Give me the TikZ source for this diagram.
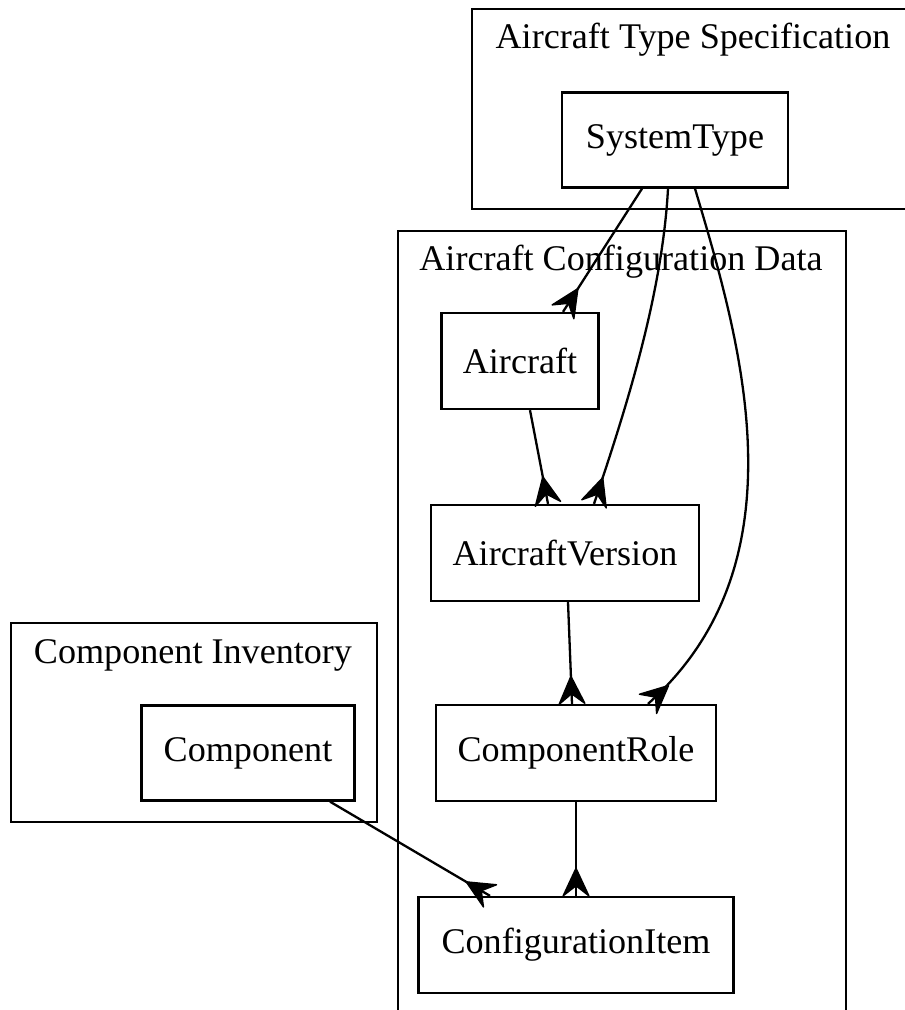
\documentclass[tikz,border=0pt]{standalone}
\usepackage{fontspec}
\setmainfont{Liberation Serif}
\usepackage{tikz}
\usetikzlibrary{arrows.meta}
% crow-foot tip as in the graph drawing
\pgfdeclarearrow{
  name = crow,
  setup code = {
    \pgfarrowssettipend{0pt}
    \pgfarrowssetlineend{0pt}
    \pgfarrowssetbackend{-12pt}
    \pgfarrowssetvisualbackend{-12pt}
  },
  drawing code = {
    \pgfsetlinewidth{0.6pt}
    \pgfsetroundjoin
    \pgfpathmoveto{\pgfqpoint{-12pt}{0pt}}
    \pgfpathlineto{\pgfqpoint{0pt}{5.6pt}}
    \pgfpathlineto{\pgfqpoint{-4.4pt}{0pt}}
    \pgfpathlineto{\pgfqpoint{0pt}{-5.6pt}}
    \pgfpathclose
    \pgfusepathqfillstroke
  }
}
\def\px{0.01528cm}
\tikzset{
  box/.style={rectangle,draw,line width=1pt,inner sep=0pt,font=\fontsize{15.7}{18}\selectfont},
  clab/.style={inner sep=0pt,font=\fontsize{15.7}{18}\selectfont},
  cluster/.style={draw,line width=1pt},
  link/.style={line width=1pt,-crow}
}
\begin{document}
\begin{tikzpicture}[x=\px,y=-\px]
\useasboundingbox (0,0) rectangle (904,1010);
%clusters
\draw[cluster](472,9)rectangle(912,209);
\draw[cluster](398,1020)--(398,231)--(846,231)--(846,1020);
\draw[cluster](11,623)rectangle(377,822);
\node[clab](labtype)at(693,40){Aircraft Type Specification};
\node[clab](labconf)at(621,262){Aircraft Configuration Data};
\node[clab](labinv)at(193,655){Component Inventory};
%nodes
\node[box,minimum width=226*\px,minimum height=95*\px](systype)at(675,140){SystemType};
\node[box,minimum width=157*\px,minimum height=96*\px](aircraft)at(520,361){Aircraft};
\node[box,minimum width=268*\px,minimum height=96*\px](version)at(565,553){AircraftVersion};
\node[box,minimum width=280*\px,minimum height=96*\px](role)at(576,753){ComponentRole};
\node[box,minimum width=315*\px,minimum height=96*\px](item)at(576,945){ConfigurationItem};
\node[box,minimum width=213*\px,minimum height=95*\px](comp)at(248,753){Component};
%links
\draw[link]([xshift=-33*\px]systype.south)--([xshift=43*\px]aircraft.north);
\draw[link]([xshift=-7*\px]systype.south)..controls(662,300)and(622,420)..([xshift=29*\px]version.north);
\draw[link]([xshift=20*\px]systype.south)..controls(740,340)and(807,562)..([xshift=72*\px]role.north);
\draw[link]([xshift=10*\px]aircraft.south)--([xshift=-17*\px]version.north);
\draw[link]([xshift=3*\px]version.south)--([xshift=-4*\px]role.north);
\draw[link](role.south)--(item.north);
\draw[link]([xshift=82*\px]comp.south)--([xshift=-86*\px]item.north);
\end{tikzpicture}
\end{document}
